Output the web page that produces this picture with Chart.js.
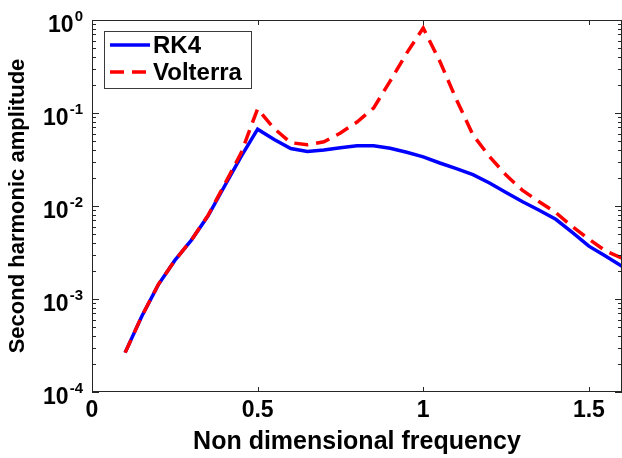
<!DOCTYPE html>
<html>
<head>
<meta charset="utf-8">
<title>Second harmonic amplitude</title>
<script src="https://cdn.jsdelivr.net/npm/chart.js@4.4.0/dist/chart.umd.min.js"></script>
<style>
  html, body { margin: 0; padding: 0; background: #fff; }
  #wrap { width: 622px; height: 458px; }
</style>
</head>
<body>
<div id="wrap"><canvas id="chart"></canvas></div>
<script>
// Values
const freq = [0.10, 0.15, 0.20, 0.25, 0.30, 0.35, 0.40, 0.45, 0.50, 0.55,
              0.60, 0.65, 0.70, 0.75, 0.80, 0.85, 0.90, 0.95, 1.00, 1.05,
              1.10, 1.15, 1.20, 1.25, 1.30, 1.35, 1.40, 1.45, 1.50, 1.55, 1.60];

const rk4 = [2.65e-4, 6.5e-4, 1.42e-3, 2.6e-3, 4.3e-3, 7.8e-3, 0.0163, 0.034, 0.067, 0.052,
             0.0415, 0.0385, 0.0400, 0.0424, 0.0445, 0.0445, 0.0417, 0.0378, 0.0338, 0.0290,
             0.0252, 0.0217, 0.0177, 0.0140, 0.0111, 0.0090, 0.0072, 0.0052, 0.0037, 0.0029, 0.00225];

const volterra = [2.65e-4, 6.5e-4, 1.43e-3, 2.6e-3, 4.3e-3, 7.9e-3, 0.0170, 0.037, 0.111, 0.068,
                  0.048, 0.0455, 0.049, 0.061, 0.080, 0.113, 0.22, 0.44, 0.82, 0.36,
                  0.14, 0.058, 0.034, 0.0215, 0.0147, 0.0111, 0.0085, 0.0060, 0.0044, 0.0033, 0.00275];

const seriesNames = ['RK4', 'Volterra'];

const xTicks = [0, 0.5, 1, 1.5];
const yTicks = [1, 0.1, 0.01, 0.001, 0.0001];
const yTickExp = ['0', '-1', '-2', '-3', '-4'];

const FONT = "'Liberation Sans', Arial, Helvetica, sans-serif";
const AXIS_COLOR = '#262626';

// MATLAB-style box, inward ticks, 10^n labels and framed legend
const matlabAxes = {
    id: 'matlabAxes',
    afterDatasetsDraw(chart) {
        const ctx = chart.ctx;
        const area = chart.chartArea;
        const xs = chart.scales.x;
        const ys = chart.scales.y;

        ctx.save();
        ctx.strokeStyle = AXIS_COLOR;
        ctx.lineWidth = 1;
        ctx.setLineDash([]);

        // Box
        ctx.strokeRect(area.left + 0.5, area.top + 0.5,
                       area.right - area.left - 1, area.bottom - area.top - 1);

        ctx.beginPath();
        // x ticks, bottom and top, pointing inward
        xTicks.forEach(v => {
            const px = Math.round(xs.getPixelForValue(v)) + 0.5;
            ctx.moveTo(px, area.bottom); ctx.lineTo(px, area.bottom - 5);
            ctx.moveTo(px, area.top); ctx.lineTo(px, area.top + 5);
        });
        // y ticks: decades and minor ones
        yTicks.forEach((v, i) => {
            const py = Math.round(ys.getPixelForValue(v)) + 0.5;
            ctx.moveTo(area.left, py); ctx.lineTo(area.left + 7, py);
            ctx.moveTo(area.right, py); ctx.lineTo(area.right - 7, py);
            if (i < yTicks.length - 1) {
                for (let m = 2; m <= 9; m++) {
                    const pm = Math.round(ys.getPixelForValue(v * m / 10)) + 0.5;
                    ctx.moveTo(area.left, pm); ctx.lineTo(area.left + 4, pm);
                    ctx.moveTo(area.right, pm); ctx.lineTo(area.right - 4, pm);
                }
            }
        });
        ctx.stroke();

        // y tick labels as 10 with raised exponent
        ctx.fillStyle = '#000';
        ctx.textAlign = 'right';
        ctx.textBaseline = 'alphabetic';
        const labelRight = area.left - 9;
        yTicks.forEach((v, i) => {
            const py = ys.getPixelForValue(v);
            ctx.font = 'bold 15px ' + FONT;
            const ew = ctx.measureText(yTickExp[i]).width;
            ctx.fillText(yTickExp[i], labelRight, py + 1);
            ctx.font = 'bold 23px ' + FONT;
            ctx.fillText('10', labelRight - ew - 1, py + 12);
        });

        // Legend
        const lx = 104.5, ly = 31.5, lw = 147, lh = 57;
        ctx.fillStyle = '#fff';
        ctx.fillRect(lx, ly, lw, lh);
        ctx.strokeStyle = '#3a3a3a';
        ctx.strokeRect(lx, ly, lw, lh);
        ctx.font = 'bold 24px ' + FONT;
        ctx.textAlign = 'left';
        ctx.textBaseline = 'middle';
        chart.data.datasets.forEach((ds, i) => {
            const y = 45 + i * 27;
            ctx.strokeStyle = ds.borderColor;
            ctx.lineWidth = ds.borderWidth;
            ctx.setLineDash(ds.borderDash || []);
            ctx.beginPath();
            ctx.moveTo(110, y);
            ctx.lineTo(150, y);
            ctx.stroke();
            ctx.fillStyle = '#000';
            ctx.fillText(ds.label, 153, y + 1);
        });
        ctx.restore();
    }
};

const toPoints = (xs, ys) => xs.map((x, i) => ({ x: x, y: ys[i] }));

new Chart(document.getElementById('chart'), {
    type: 'line',
    data: {
        datasets: [
            {
                label: seriesNames[0],
                data: toPoints(freq, rk4),
                borderColor: '#0000ff',
                borderWidth: 3.5,
                pointRadius: 0,
                tension: 0,
                order: 1
            },
            {
                label: seriesNames[1],
                data: toPoints(freq, volterra),
                borderColor: '#ff0000',
                borderWidth: 3.5,
                borderDash: [14, 8],
                pointRadius: 0,
                tension: 0,
                order: 0
            }
        ]
    },
    options: {
        responsive: true,
        maintainAspectRatio: false,
        animation: false,
        layout: { padding: { left: 5, top: 20, right: 0, bottom: 0 } },
        plugins: {
            legend: { display: false },
            tooltip: { enabled: false }
        },
        scales: {
            x: {
                type: 'linear',
                min: 0,
                max: 1.6,
                afterBuildTicks: scale => { scale.ticks = xTicks.map(v => ({ value: v })); },
                grid: { display: false, drawTicks: false },
                border: { display: false },
                ticks: {
                    color: '#000',
                    padding: 5,
                    maxRotation: 0,
                    font: { family: FONT, size: 23, weight: 'bold', lineHeight: 1.2 },
                    callback: v => String(v)
                },
                title: {
                    display: true,
                    text: 'Non dimensional frequency',
                    color: '#000',
                    padding: { top: 0, bottom: 3.4 },
                    font: { family: FONT, size: 25, weight: 'bold', lineHeight: 1 }
                }
            },
            y: {
                type: 'logarithmic',
                min: 1e-4,
                max: 1,
                grid: { display: false, drawTicks: false },
                border: { display: false },
                ticks: { display: false },
                title: {
                    display: true,
                    text: 'Second harmonic amplitude',
                    color: '#000',
                    padding: { top: 0, bottom: 60.6 },
                    font: { family: FONT, size: 22, weight: 'bold', lineHeight: 1.2 }
                }
            }
        }
    },
    plugins: [matlabAxes]
});
</script>
</body>
</html>
